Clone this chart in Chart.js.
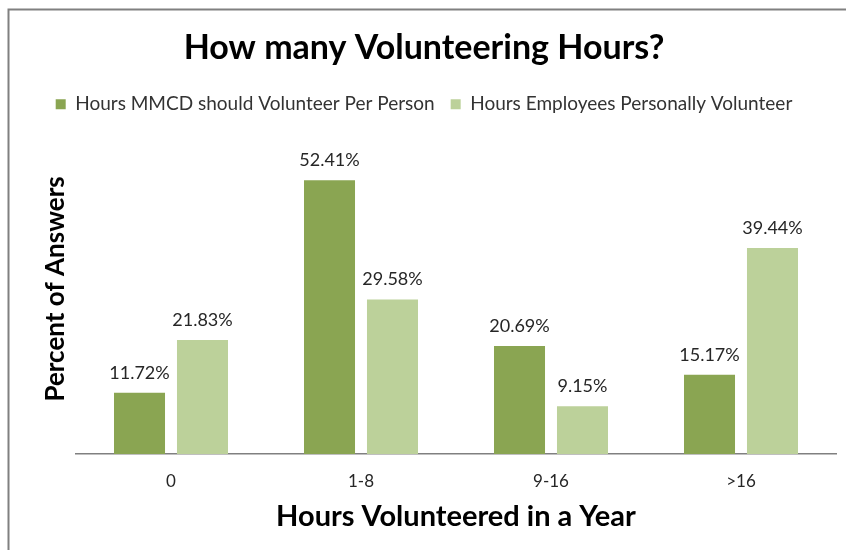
<!DOCTYPE html>
<html>
<head>
<meta charset="utf-8">
<script src="https://cdn.jsdelivr.net/npm/chart.js@4.4.1/dist/chart.umd.min.js"></script>
<style>
  html, body { margin: 0; padding: 0; background: #fff; }
  #wrap { width: 846px; height: 550px; position: relative; }
</style>
</head>
<body>
<div id="wrap"><canvas id="grafico" width="846" height="550"></canvas></div>
<script>
const categorias = ["0", "1-8", "9-16", ">16"];
const debeVoluntariar = [11.72, 52.41, 20.69, 15.17];
const voluntariadoPersonal = [21.83, 29.58, 9.15, 39.44];
const nombresSeries = ["Hours MMCD should Volunteer Per Person", "Hours Employees Personally Volunteer"];
const colores = ["#8aa552", "#bcd19a"];

const fuente = "Lato";

// marco gris arriba y a la izquierda
const marco = {
  id: "marco",
  beforeDraw(chart) {
    const c = chart.ctx;
    c.save();
    c.fillStyle = "#fff";
    c.fillRect(0, 0, chart.width, chart.height);
    c.strokeStyle = "#808080";
    c.lineWidth = 2;
    c.beginPath();
    c.moveTo(8.5, chart.height);
    c.lineTo(8.5, 9.5);
    c.lineTo(chart.width, 9.5);
    c.stroke();
    c.restore();
  }
};

// etiquetas de porcentaje sobre cada barra
const etiquetas = {
  id: "etiquetas",
  afterDatasetsDraw(chart) {
    const c = chart.ctx;
    c.save();
    c.font = "18px " + fuente;
    c.fillStyle = "#262626";
    c.textAlign = "center";
    c.textBaseline = "middle";
    chart.data.datasets.forEach((ds, i) => {
      chart.getDatasetMeta(i).data.forEach((bar, j) => {
        c.fillText(ds.data[j].toFixed(2) + "%", bar.x, bar.y - 20);
      });
    });
    c.restore();
  }
};

const ctx = document.getElementById("grafico").getContext("2d");
const chart = new Chart(ctx, {
  type: "bar",
  data: {
    labels: categorias,
    datasets: [
      { label: nombresSeries[0], data: debeVoluntariar, backgroundColor: colores[0] },
      { label: nombresSeries[1], data: voluntariadoPersonal, backgroundColor: colores[1] }
    ]
  },
  options: {
    responsive: false,
    animation: false,
    categoryPercentage: 0.663,
    barPercentage: 0.81,
    layout: { padding: { top: 28, right: 0, left: 2, bottom: 0 } },
    plugins: {
      title: {
        display: true,
        text: "How many Volunteering Hours?",
        color: "#000",
        font: { family: fuente, size: 34, weight: "bold" },
        padding: { top: 0, bottom: 10 }
      },
      legend: {
        labels: {
          color: "#333",
          font: { family: fuente, size: 19 },
          boxWidth: 10,
          boxHeight: 10,
          padding: 16
        }
      },
      tooltip: { enabled: false }
    },
    scales: {
      x: {
        grid: { display: false },
        border: { display: true, color: "#808080", width: 1.5 },
        ticks: { color: "#262626", font: { family: fuente, size: 17 }, padding: 9 },
        title: {
          display: true,
          text: "Hours Volunteered in a Year",
          color: "#000",
          font: { family: fuente, size: 29, weight: "bold" },
          padding: { top: 4, bottom: 16 }
        },
        afterFit(scale) { scale.height = 96; }
      },
      y: {
        min: 0,
        max: 63.2,
        grid: { display: false },
        border: { display: false },
        ticks: { display: false },
        title: {
          display: true,
          text: "Percent of Answers",
          color: "#000",
          font: { family: fuente, size: 26, weight: "bold" },
          padding: { top: 38, bottom: 0 }
        },
        afterFit(scale) { scale.width = 74; }
      },
      margen: {
        position: "right",
        grid: { display: false },
        border: { display: false },
        ticks: { display: false },
        afterFit(scale) { scale.width = 10; }
      }
    }
  },
  plugins: [marco, etiquetas]
});
</script>
</body>
</html>
